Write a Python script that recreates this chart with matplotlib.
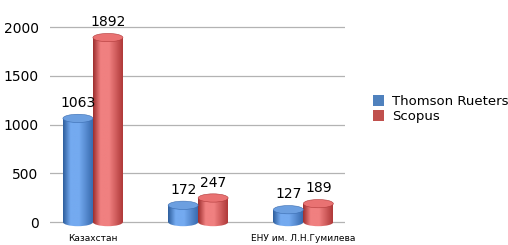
import numpy as np
import matplotlib.pyplot as plt
from matplotlib.patches import Rectangle, Ellipse, Patch
from matplotlib.colors import LinearSegmentedColormap

categories = ['Казахстан', '', 'ЕНУ им. Л.Н.Гумилева']
thomson = [1063, 172, 127]
scopus = [1892, 247, 189]
series_names = ['Thomson Rueters', 'Scopus']
yticks = [0, 500, 1000, 1500, 2000]

blue = ['#2f5f9e', '#74aaf0', '#3a6cb0']
red = ['#9e2f2f', '#f08080', '#b03a3a']
blue_top = '#6c9fe0'
red_top = '#e97272'

fig = plt.figure(figsize=(5.08, 2.45), dpi=100)
ax = fig.add_axes([0.098, 0.053, 0.582, 0.898])

x = np.arange(len(categories))
w = 0.285
eh = 85  # ellipse height in data units


def cylinder(ax, c, v, cols, top_col):
    cmap = LinearSegmentedColormap.from_list('g', [cols[0], cols[1], cols[1], cols[2]])
    grad = np.linspace(0, 1, 64).reshape(1, -1)
    grad = np.interp(grad, [0, 0.3, 0.45, 1], [0, 0.4, 0.6, 1])
    rect = Rectangle((c - w / 2, 0), w, v, transform=ax.transData)
    bot = Ellipse((c, 0), w, eh, transform=ax.transData)
    for clip in (rect, bot):
        im = ax.imshow(grad, cmap=cmap, aspect='auto', extent=[c - w / 2, c + w / 2, -eh, v + eh],
                       zorder=3, interpolation='bilinear')
        im.set_clip_path(clip)
    ax.add_patch(Ellipse((c, v), w, eh, facecolor=top_col, edgecolor=cols[2], lw=0.4, zorder=4))
    ax.annotate(str(v), (c, v), xytext=(0, 6), textcoords='offset points', ha='center', va='bottom',
                fontsize=10, zorder=5)


for i in range(len(categories)):
    cylinder(ax, x[i] - w / 2, thomson[i], blue, blue_top)
    cylinder(ax, x[i] + w / 2, scopus[i], red, red_top)

ax.set_xlim(-0.41, 2.4)
ax.set_ylim(-102, 2154)
ax.set_yticks(yticks)
ax.tick_params(axis='y', length=0, labelsize=10, pad=8)
ax.set_xticks([])
for t in yticks:
    ax.axhline(t, color='#b3b3b3', lw=0.9, zorder=1)
for s in ax.spines.values():
    s.set_visible(False)

for i, cat in enumerate(categories):
    fig.text((93 + 105 * i) / 508, 1 - 238 / 245, cat, ha='center', va='center', fontsize=6.5)

handles = [Patch(facecolor='#4f81bd'), Patch(facecolor='#c0504d')]
fig.legend(handles, series_names, loc='center left', bbox_to_anchor=(0.71, 0.555), frameon=False,
           fontsize=9.5, handlelength=0.9, handleheight=0.9, handletextpad=0.6, labelspacing=0.2)

fig.savefig('out.png', dpi=100)
